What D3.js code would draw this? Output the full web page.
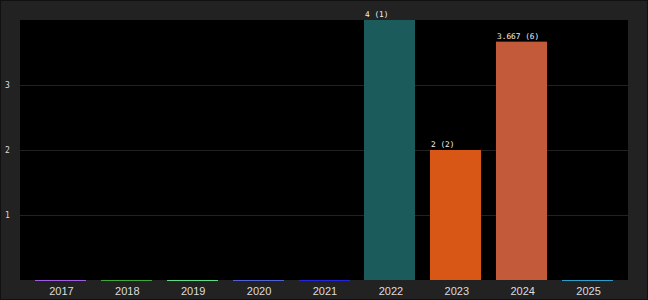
<!DOCTYPE html>
<html>
<head>
<meta charset="utf-8">
<script src="https://cdn.jsdelivr.net/npm/d3@7"></script>
<style>
  html, body { margin: 0; padding: 0; background: #222; }
  svg { display: block; }
</style>
</head>
<body>
<svg id="chart" width="648" height="300"></svg>
<script>
// Values.
const years = ['2017', '2018', '2019', '2020', '2021', '2022', '2023', '2024', '2025'];
const values = [0, 0, 0, 0, 0, 4, 2, 3.667, 0];
const counts = [0, 0, 0, 0, 0, 1, 2, 6, 0];
const barColors = ['#a25ce4', '#3ea83a', '#5ade8a', '#5060d6', '#2424e0', '#1c5b5b', '#d95716', '#c35b3a', '#2aa0c8'];
const yTicks = [1, 2, 3];

const width = 648, height = 300;
const margin = { top: 20, right: 20, bottom: 20, left: 20 };

const svg = d3.select('#chart');

// Frame and plot background.
svg.append('rect')
  .attr('x', 0.5).attr('y', 0.5)
  .attr('width', width - 1).attr('height', height - 1)
  .attr('fill', '#222').attr('stroke', '#111');

svg.append('rect')
  .attr('x', margin.left).attr('y', margin.top)
  .attr('width', width - margin.left - margin.right)
  .attr('height', height - margin.top - margin.bottom)
  .attr('fill', '#000');

const x = d3.scaleBand()
  .domain(years)
  .range([margin.left, width - margin.right])
  .paddingInner(0.2277)
  .paddingOuter(0.2277);

const y = d3.scaleLinear()
  .domain([0, 4])
  .range([height - margin.bottom, margin.top]);

// Grid lines.
svg.append('g')
  .selectAll('line')
  .data(yTicks)
  .join('line')
  .attr('x1', margin.left)
  .attr('x2', width - margin.right)
  .attr('y1', d => Math.round(y(d)) + 0.5)
  .attr('y2', d => Math.round(y(d)) + 0.5)
  .attr('stroke', '#222');

// Y tick labels.
svg.append('g')
  .selectAll('text')
  .data(yTicks)
  .join('text')
  .attr('x', 5)
  .attr('y', d => y(d) + 3)
  .attr('fill', '#ddd')
  .attr('font-family', 'DejaVu Sans Mono, monospace')
  .attr('font-size', 8)
  .text(d => d);

// Bars; zero values still show as a thin line.
svg.append('g')
  .selectAll('rect')
  .data(years)
  .join('rect')
  .attr('x', d => Math.round(x(d)))
  .attr('width', Math.round(x.bandwidth()))
  .attr('y', (d, i) => values[i] > 0 ? y(values[i]) : y(0))
  .attr('height', (d, i) => values[i] > 0 ? y(0) - y(values[i]) : 1)
  .attr('fill', (d, i) => barColors[i]);

// Value labels above bars: "value (count)".
svg.append('g')
  .selectAll('text')
  .data(years.filter((d, i) => values[i] > 0))
  .join('text')
  .attr('x', d => Math.round(x(d)) + 1)
  .attr('y', d => y(values[years.indexOf(d)]) - 3)
  .attr('fill', '#f2f2f2')
  .attr('font-family', 'DejaVu Sans Mono, monospace')
  .attr('font-size', 7.8)
  .text(d => {
    const i = years.indexOf(d);
    return `${values[i]} (${counts[i]})`;
  });

// X axis labels.
svg.append('g')
  .selectAll('text')
  .data(years)
  .join('text')
  .attr('x', d => x(d) + x.bandwidth() / 2 + 1)
  .attr('y', 295)
  .attr('text-anchor', 'middle')
  .attr('fill', '#ddd')
  .attr('font-family', 'Liberation Sans, Arial, sans-serif')
  .attr('font-size', 11)
  .text(d => d);
</script>
</body>
</html>
